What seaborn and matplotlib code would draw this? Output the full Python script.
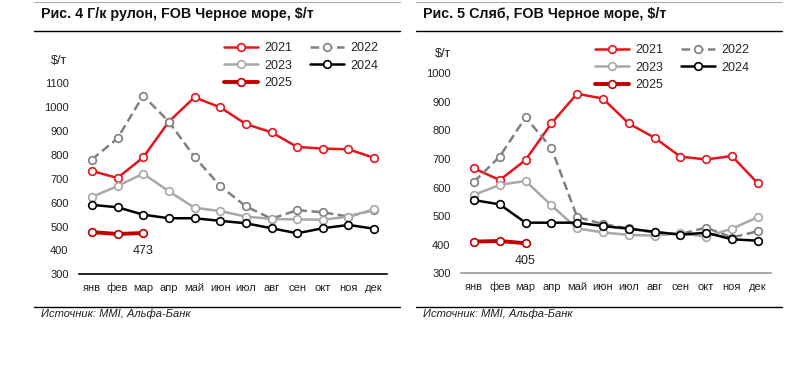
import matplotlib
matplotlib.use("Agg")
import matplotlib.pyplot as plt
import seaborn as sns
import pandas as pd

months = ["янв", "фев", "мар", "апр", "май", "июн", "июл", "авг", "сен", "окт", "ноя", "дек"]
years = ["2021", "2022", "2023", "2024", "2025"]

# Рис. 4 Г/к рулон
hrc_2021 = [733, 704, 790, 940, 1042, 1000, 930, 895, 834, 827, 824, 788]
hrc_2022 = [781, 870, 1049, 940, 792, 670, 585, 533, 569, 560, 542, 570]
hrc_2023 = [624, 670, 722, 648, 579, 565, 542, 532, 530, 529, 542, 572]
hrc_2024 = [591, 581, 550, 535, 535, 524, 514, 493, 472, 493, 507, 491]
hrc_2025 = [477, 469, 473]

# Рис. 5 Сляб
slab_2021 = [667, 626, 696, 824, 928, 911, 824, 774, 708, 698, 710, 615]
slab_2022 = [620, 708, 845, 739, 497, 472, 457, 443, 437, 460, 425, 447]
slab_2023 = [574, 609, 623, 538, 457, 443, 434, 432, 440, 428, 456, 496]
slab_2024 = [556, 541, 477, 477, 477, 465, 456, 445, 435, 442, 419, 414]
slab_2025 = [411, 413, 405]

sns.set_theme(style="white")
plt.rcParams["font.family"] = ["Liberation Sans", "DejaVu Sans"]

styles = {
    "2021": dict(color="#e8141c", lw=1.8, ls="-"),
    "2022": dict(color="#808080", lw=1.8, ls=(0, (3.5, 1.8))),
    "2023": dict(color="#a8a8a8", lw=1.8, ls="-"),
    "2024": dict(color="#000000", lw=1.8, ls="-"),
    "2025": dict(color="#c00000", lw=2.8, ls="-"),
}


def make_df(series):
    rows = []
    for year, vals in zip(years, series):
        for i, v in enumerate(vals):
            rows.append({"year": year, "m": i, "val": v})
    return pd.DataFrame(rows)


def draw_panel(ax, df, ylim, ticks, axis_color):
    for k, year in enumerate(years):
        st = styles[year]
        sns.lineplot(data=df[df["year"] == year], x="m", y="val", ax=ax,
                     color=st["color"], linewidth=st["lw"], linestyle=st["ls"],
                     marker="o", markersize=5.5, markerfacecolor="white",
                     markeredgecolor=st["color"], markeredgewidth=1.2,
                     label=year, zorder=3 + k, errorbar=None)
    ax.set_xlim(-0.5, 11.5)
    ax.set_ylim(*ylim)
    ax.set_yticks(ticks)
    ax.set_xticks(range(12))
    ax.set_xticklabels(months)
    ax.set_xlabel("")
    ax.set_ylabel("")
    ax.tick_params(axis="both", length=0, labelsize=8, colors="#222222")
    ax.tick_params(axis="y", pad=7.5)
    ax.tick_params(axis="x", pad=6)
    for s in ["left", "right", "top"]:
        ax.spines[s].set_visible(False)
    ax.spines["bottom"].set_color(axis_color)
    ax.spines["bottom"].set_linewidth(1.2)
    ax.patch.set_alpha(0)
    last = df[df["year"] == "2025"].iloc[-1]
    ax.annotate(str(int(last["val"])), (last["m"], last["val"]),
                xytext=(0, -13), textcoords="offset points",
                ha="center", va="center", fontsize=9, color="#222222")
    h, l = ax.get_legend_handles_labels()
    if ax.get_legend():
        ax.get_legend().remove()
    return h, l


fig = plt.figure(figsize=(8, 3.65), dpi=100)
W, H = 800, 365


def fx(px):
    return px / W


def fy(py):
    return 1 - py / H


ax1 = fig.add_axes([fx(79), fy(274.3), fx(308), (274.3 - 59.6) / H])
ax2 = fig.add_axes([fx(461), fy(273.3), fx(309.6), (273.3 - 58.8) / H])

df1 = make_df([hrc_2021, hrc_2022, hrc_2023, hrc_2024, hrc_2025])
df2 = make_df([slab_2021, slab_2022, slab_2023, slab_2024, slab_2025])

h1, l1 = draw_panel(ax1, df1, (300, 1200), range(300, 1101, 100), "#000000")
h2, l2 = draw_panel(ax2, df2, (300, 1050), range(300, 1001, 100), "#999999")

order = [0, 2, 4, 1, 3]
for h, l, x0, y0 in [(h1, l1, 224, 42), (h2, l2, 595, 44)]:
    fig.legend([h[i] for i in order], [l[i] for i in order],
               loc="upper left", bbox_to_anchor=(fx(x0), fy(y0)),
               ncol=2, frameon=False, fontsize=9, borderpad=0,
               borderaxespad=0, handlelength=2.7, handletextpad=0.55,
               columnspacing=1.4, labelspacing=0.45)

fig.text(fx(67), fy(61), "$/т", ha="right", va="center", fontsize=9, color="#222222")
fig.text(fx(451), fy(54), "$/т", ha="right", va="center", fontsize=9, color="#222222")

# titles, rules and sources
panels = [(34, 400, "Рис. 4 Г/к рулон, FOB Черное море, $/т"),
          (416, 782, "Рис. 5 Сляб, FOB Черное море, $/т")]
for x0, x1, title in panels:
    fig.add_artist(plt.Line2D([fx(x0), fx(x1)], [fy(1.5), fy(1.5)], color="#b0b0b0", lw=0.8))
    fig.add_artist(plt.Line2D([fx(x0), fx(x1)], [fy(31), fy(31)], color="#000000", lw=1.0))
    fig.add_artist(plt.Line2D([fx(x0), fx(x1)], [fy(306.5), fy(306.5)], color="#000000", lw=1.0))
    fig.text(fx(x0 + 7), fy(14), title, ha="left", va="center",
             fontsize=10.3, fontweight="bold", color="#111111")
    fig.text(fx(x0 + 7), fy(313.5), "Источник: MMI, Альфа-Банк", ha="left", va="center",
             fontsize=8, fontstyle="italic", color="#222222")

fig.savefig("out.png", dpi=100)
